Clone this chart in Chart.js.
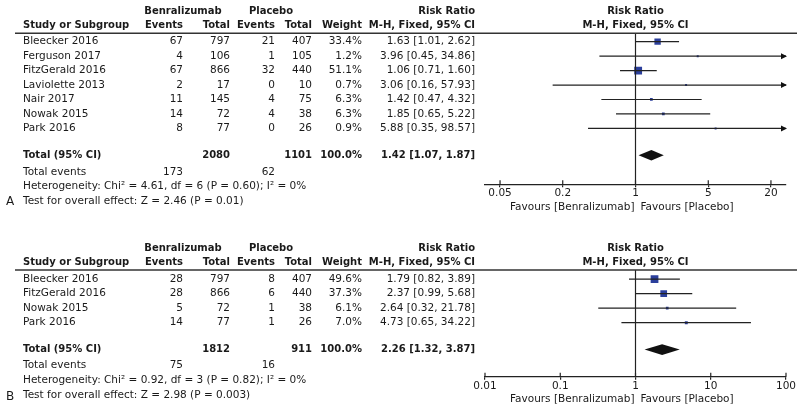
<!DOCTYPE html>
<html>
<head>
<meta charset="utf-8">
<script src="https://cdn.jsdelivr.net/npm/chart.js@4"></script>
<style>
  body { margin: 0; background: #fff; }
  canvas { position: absolute; left: 0; }
  #panelA { top: 0; }
  #panelB { top: 215px; }
</style>
</head>
<body>
<canvas id="panelA" width="800" height="215"></canvas>
<canvas id="panelB" width="800" height="196"></canvas>
<script>
/* PANEL A DATA */
const studiesA = ["Bleecker 2016", "Ferguson 2017", "FitzGerald 2016", "Laviolette 2013", "Nair 2017", "Nowak 2015", "Park 2016"];
const benEventsA = [67, 4, 67, 2, 11, 14, 8];
const benTotalA = [797, 106, 866, 17, 145, 72, 77];
const plaEventsA = [21, 1, 32, 0, 4, 4, 0];
const plaTotalA = [407, 105, 440, 10, 75, 38, 26];
const weightA = [33.4, 1.2, 51.1, 0.7, 6.3, 6.3, 0.9];
const rrA = [1.63, 3.96, 1.06, 3.06, 1.42, 1.85, 5.88];
const lowA = [1.01, 0.45, 0.71, 0.16, 0.47, 0.65, 0.35];
const highA = [2.62, 34.86, 1.60, 57.93, 4.32, 5.22, 98.57];
const totalA = [1.42, 1.07, 1.87];
const totalsA = [173, 2080, 62, 1101];
const ticksA = [0.05, 0.2, 1, 5, 20];
const hetA = "Heterogeneity: Chi² = 4.61, df = 6 (P = 0.60); I² = 0%";
const testA = "Test for overall effect: Z = 2.46 (P = 0.01)";

/* PANEL B DATA */
const studiesB = ["Bleecker 2016", "FitzGerald 2016", "Nowak 2015", "Park 2016"];
const benEventsB = [28, 28, 5, 14];
const benTotalB = [797, 866, 72, 77];
const plaEventsB = [8, 6, 1, 1];
const plaTotalB = [407, 440, 38, 26];
const weightB = [49.6, 37.3, 6.1, 7.0];
const rrB = [1.79, 2.37, 2.64, 4.73];
const lowB = [0.82, 0.99, 0.32, 0.65];
const highB = [3.89, 5.68, 21.78, 34.22];
const totalB = [2.26, 1.32, 3.87];
const totalsB = [75, 1812, 16, 911];
const ticksB = [0.01, 0.1, 1, 10, 100];
const hetB = "Heterogeneity: Chi² = 0.92, df = 3 (P = 0.82); I² = 0%";
const testB = "Test for overall effect: Z = 2.98 (P = 0.003)";

const FONT = "'DejaVu Sans', sans-serif";
const BLUE = "#2b3f9c";

function fmt2(v) { return v.toFixed(2); }
function ciText(r, l, h) { return fmt2(r) + " [" + fmt2(l) + ", " + fmt2(h) + "]"; }

function makePanel(id, p) {
  const n = p.studies.length;
  const rows = p.studies.map((s, i) => i + 1);
  const datasets = [];

  // vertical line of no effect
  datasets.push({
    type: "line",
    data: [{ x: 1, y: p.yMin }, { x: 1, y: p.yMax }],
    borderColor: "#222", borderWidth: 1.2, pointRadius: 0
  });

  // confidence intervals
  for (let i = 0; i < n; i++) {
    datasets.push({
      type: "line",
      data: [{ x: p.low[i], y: rows[i] }, { x: p.high[i], y: rows[i] }],
      borderColor: "#222", borderWidth: 1.2, pointRadius: 0
    });
  }

  // point estimates, square size by weight
  datasets.push({
    type: "scatter",
    data: p.rr.map((v, i) => ({ x: v, y: rows[i] })),
    pointStyle: "rect",
    pointRadius: ctx => Math.max(2, 11 * Math.sqrt(p.weight[ctx.dataIndex] / 100)) / Math.SQRT2,
    backgroundColor: BLUE,
    borderWidth: 0
  });

  const tablePlugin = {
    id: "table",
    afterDatasetsDraw(chart) {
      const c = chart.ctx;
      const xs = chart.scales.x;
      const ys = chart.scales.y;
      const area = chart.chartArea;
      const Y = v => ys.getPixelForValue(v);

      // arrows for intervals past the axis
      c.save();
      c.fillStyle = "#111";
      for (let i = 0; i < n; i++) {
        if (p.high[i] > xs.max) {
          const y = Y(rows[i]);
          c.beginPath();
          c.moveTo(area.right + 1, y);
          c.lineTo(area.right - 5, y - 3);
          c.lineTo(area.right - 5, y + 3);
          c.closePath();
          c.fill();
        }
      }

      // pooled diamond
      const ty = Y(p.totalRow);
      c.beginPath();
      c.moveTo(xs.getPixelForValue(p.total[1]), ty);
      c.lineTo(xs.getPixelForValue(p.total[0]), ty - 5.3);
      c.lineTo(xs.getPixelForValue(p.total[2]), ty);
      c.lineTo(xs.getPixelForValue(p.total[0]), ty + 5.3);
      c.closePath();
      c.fill();

      // header rule
      c.strokeStyle = "#333";
      c.lineWidth = 1.5;
      c.beginPath();
      c.moveTo(15, area.top);
      c.lineTo(797, area.top);
      c.stroke();

      // tick marks poke above the axis line too
      c.strokeStyle = "#222";
      c.lineWidth = 1.2;
      p.ticks.forEach(v => {
        const x = xs.getPixelForValue(v);
        c.beginPath();
        c.moveTo(x, area.bottom);
        c.lineTo(x, area.bottom - 4);
        c.stroke();
      });

      const reg = "10.5px " + FONT;
      const bold = "bold 10px " + FONT;
      c.fillStyle = "#1a1a1a";
      c.textBaseline = "middle";
      function t(str, x, y, align, f) {
        c.font = f || reg;
        c.textAlign = align || "left";
        c.fillText(str, x, y);
      }
      const col = { study: 23, ev1: 183, tot1: 230, ev2: 275, tot2: 312, w: 362, rr: 475 };
      const h1 = Y(p.headRows[0]);
      const h2 = Y(p.headRows[1]);
      const mid = (area.left + area.right) / 2;

      t("Benralizumab", 183, h1, "center", bold);
      t("Placebo", 271, h1, "center", bold);
      t("Risk Ratio", col.rr, h1, "right", bold);
      t("Risk Ratio", mid, h1, "center", bold);
      t("Study or Subgroup", col.study, h2, "left", bold);
      t("Events", col.ev1, h2, "right", bold);
      t("Total", col.tot1, h2, "right", bold);
      t("Events", col.ev2, h2, "right", bold);
      t("Total", col.tot2, h2, "right", bold);
      t("Weight", col.w, h2, "right", bold);
      t("M-H, Fixed, 95% CI", col.rr, h2, "right", bold);
      t("M-H, Fixed, 95% CI", mid, h2, "center", bold);

      for (let i = 0; i < n; i++) {
        const y = Y(rows[i]);
        t(p.studies[i], col.study, y);
        t(String(p.benEvents[i]), col.ev1, y, "right");
        t(String(p.benTotal[i]), col.tot1, y, "right");
        t(String(p.plaEvents[i]), col.ev2, y, "right");
        t(String(p.plaTotal[i]), col.tot2, y, "right");
        t(p.weight[i].toFixed(1) + "%", col.w, y, "right");
        t(ciText(p.rr[i], p.low[i], p.high[i]), col.rr, y, "right");
      }

      t("Total (95% CI)", col.study, ty, "left", bold);
      t(String(p.totals[1]), col.tot1, ty, "right", bold);
      t(String(p.totals[3]), col.tot2, ty, "right", bold);
      t("100.0%", col.w, ty, "right", bold);
      t(ciText(p.total[0], p.total[1], p.total[2]), col.rr, ty, "right", bold);

      const ey = Y(p.eventsRow);
      t("Total events", col.study, ey);
      t(String(p.totals[0]), col.ev1, ey, "right");
      t(String(p.totals[2]), col.ev2, ey, "right");
      t(p.het, col.study, Y(p.hetRow));
      t(p.test, col.study, Y(p.testRow));
      t(p.letter, 10, Y(p.testRow) + p.letterShift, "center", "12px " + FONT);

      const x1 = xs.getPixelForValue(1);
      const fy = area.bottom + 23;
      t("Favours [Benralizumab]", x1 - 1, fy, "right");
      t("Favours [Placebo]", x1 + 5, fy, "left");
      c.restore();
    }
  };

  return new Chart(document.getElementById(id), {
    type: "scatter",
    data: { datasets: datasets },
    options: {
      responsive: false,
      animation: false,
      layout: { padding: { left: 485, right: 14, top: p.padTop, bottom: p.padBottom } },
      plugins: { legend: { display: false }, tooltip: { enabled: false } },
      scales: {
        x: {
          type: "logarithmic",
          min: p.xMin,
          max: p.xMax,
          afterBuildTicks: s => { s.ticks = p.ticks.map(v => ({ value: v })); },
          afterFit: s => { s.height = 20; },
          ticks: {
            autoSkip: false,
            maxRotation: 0,
            padding: 0,
            color: "#1a1a1a",
            font: { family: FONT, size: 10.5 },
            callback: v => String(v)
          },
          grid: { drawOnChartArea: false, drawTicks: true, tickLength: 3, color: "#222", lineWidth: 1.2 },
          border: { display: true, color: "#222", width: 1.2 }
        },
        y: {
          display: false,
          reverse: true,
          min: p.yMin,
          max: p.yMax
        }
      }
    },
    plugins: [tablePlugin]
  });
}

makePanel("panelA", {
  studies: studiesA, benEvents: benEventsA, benTotal: benTotalA,
  plaEvents: plaEventsA, plaTotal: plaTotalA, weight: weightA,
  rr: rrA, low: lowA, high: highA, total: totalA, totals: totalsA,
  ticks: ticksA, het: hetA, test: testA, letter: "A", letterShift: 0,
  xMin: 1 / 27.9, xMax: 27.9,
  yMin: 0.42, yMax: 10.87,
  padTop: 33.3, padBottom: 215 - 184.3 - 20,
  headRows: [-1.12, -0.11], totalRow: 8.86, eventsRow: 10.04, hetRow: 11.03, testRow: 12.07
});

makePanel("panelB", {
  studies: studiesB, benEvents: benEventsB, benTotal: benTotalB,
  plaEvents: plaEventsB, plaTotal: plaTotalB, weight: weightB,
  rr: rrB, low: lowB, high: highB, total: totalB, totals: totalsB,
  ticks: ticksB, het: hetB, test: testB, letter: "B", letterShift: 2,
  xMin: 0.01, xMax: 100,
  yMin: 0.38, yMax: 7.71,
  padTop: 55, padBottom: 196 - 161.7 - 20,
  headRows: [-1.11, -0.12], totalRow: 5.85, eventsRow: 6.95, hetRow: 7.95, testRow: 8.96
});
</script>
</body>
</html>
